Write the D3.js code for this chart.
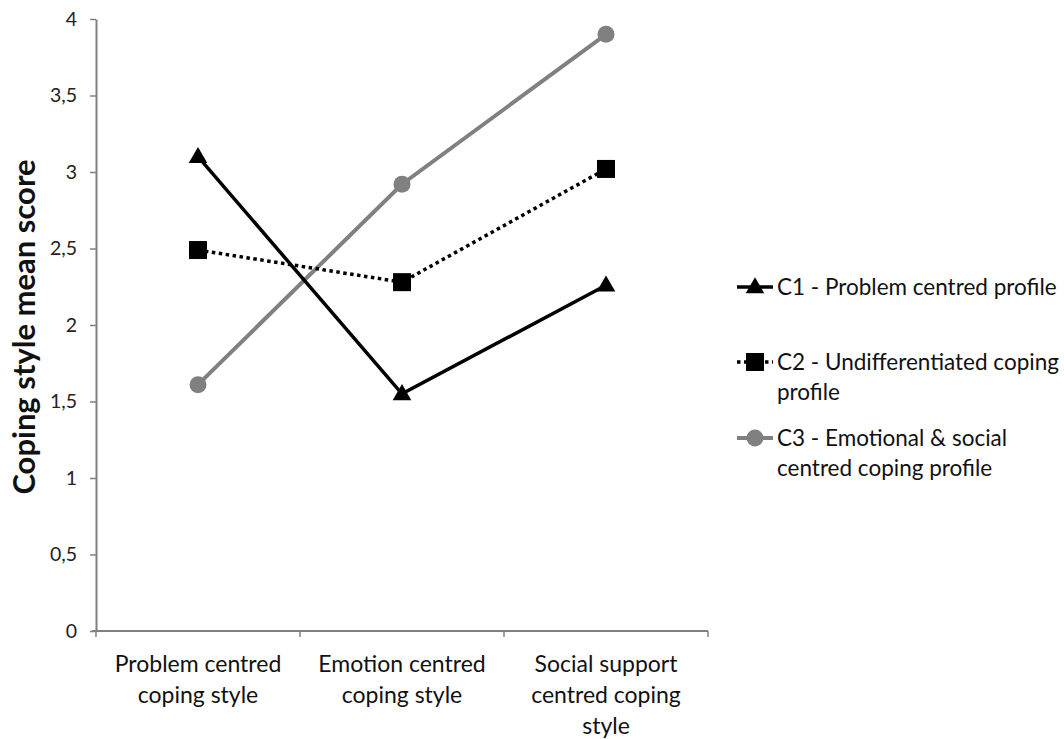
<!DOCTYPE html>
<html><head><meta charset="utf-8">
<script src="https://cdn.jsdelivr.net/npm/d3@7"></script>
<style>body{margin:0;background:#fff;} text{font-family:Lato,"Open Sans",sans-serif;}</style>
</head><body>
<svg id="c" width="1064" height="739"></svg>
<script>
const categories = [["Problem centred","coping style"],["Emotion centred","coping style"],["Social support","centred coping","style"]];
const seriesNames = [["C1 - Problem centred profile"],["C2 - Undifferentiated coping","profile"],["C3 - Emotional & social","centred coping profile"]];
const c1 = [3.10, 1.55, 2.26];
const c2 = [2.49, 2.28, 3.02];
const c3 = [1.61, 2.92, 3.90];
const yTicks = [0,0.5,1,1.5,2,2.5,3,3.5,4];

const svg = d3.select("#c");
const mLeft=96, mRight=708, mTop=19, mBottom=631;
const x = d3.scaleBand().domain([0,1,2]).range([mLeft,mRight]);
const y = d3.scaleLinear().domain([0,4]).range([mBottom,mTop]);
const fmt = d => String(d).replace(".",",");

// y axis
const ya = svg.append("g").attr("transform",`translate(${mLeft},0)`)
  .call(d3.axisLeft(y).tickValues(yTicks).tickFormat(fmt).tickSize(6).tickSizeOuter(0));
ya.select(".domain").attr("stroke","#808080").attr("stroke-width",2);
ya.selectAll(".tick line").attr("stroke","#808080").attr("stroke-width",1.5);
ya.selectAll(".tick text").attr("font-size",19.5).attr("fill","#222").attr("x",-19).style("font-family","Lato");

// x axis
const xa = svg.append("g").attr("transform",`translate(0,${mBottom})`);
xa.append("line").attr("x1",mLeft-4).attr("x2",mRight).attr("y1",0).attr("y2",0).attr("stroke","#808080").attr("stroke-width",2);
const bounds = [0,1,2].map(i=>x(i)).concat([mRight]);
xa.selectAll("line.tk").data(bounds).join("line").attr("class","tk")
  .attr("x1",d=>d).attr("x2",d=>d).attr("y1",0).attr("y2",6).attr("stroke","#808080").attr("stroke-width",1.5);
categories.forEach((lines,i)=>{
  const t = xa.append("text").attr("text-anchor","middle").attr("font-size",23).attr("fill","#111");
  lines.forEach((l,j)=>t.append("tspan").attr("x",x(i)+x.bandwidth()/2).attr("y",41+j*31).text(l));
});

// y title
svg.append("text").attr("transform",`translate(35,327) rotate(-90)`)
  .attr("text-anchor","middle").attr("font-size",31).attr("font-weight","bold").attr("fill","#111")
  .text("Coping style mean score");

const cx = i => x(i)+x.bandwidth()/2;
const line = d3.line().x((d,i)=>cx(i)).y(d=>y(d));

const styles = [
  {data:c1, color:"#000", width:3.5, dash:null, marker:"tri"},
  {data:c2, color:"#000", width:3.5, dash:"3.5,3.5", marker:"sq"},
  {data:c3, color:"#808080", width:4, dash:null, marker:"circ"}
];
function marker(g, type, px, py, color){
  if(type==="tri") g.append("path").attr("d",d3.symbol(d3.symbolTriangle,150)()).attr("transform",`translate(${px},${py+1})`).attr("fill",color);
  else if(type==="sq") g.append("rect").attr("x",px-9).attr("y",py-9).attr("width",18).attr("height",18).attr("fill",color);
  else g.append("circle").attr("cx",px).attr("cy",py).attr("r",8.5).attr("fill",color);
}
[2,1,0].forEach(k=>{
  const s = styles[k];
  const g = svg.append("g");
  g.append("path").attr("d",line(s.data)).attr("fill","none").attr("stroke",s.color)
    .attr("stroke-width",s.width).attr("stroke-dasharray",s.dash);
  s.data.forEach((v,i)=>marker(g,s.marker,cx(i),y(v),s.color));
});

// legend
const legY = [287, 362, 438];
styles.forEach((s,k)=>{
  const g = svg.append("g");
  g.append("line").attr("x1",737).attr("x2",773).attr("y1",legY[k]).attr("y2",legY[k])
    .attr("stroke",s.color).attr("stroke-width",s.width).attr("stroke-dasharray",s.dash);
  marker(g,s.marker,755,legY[k],s.color);
  const t = g.append("text").attr("font-size",22.5).attr("fill","#111");
  seriesNames[k].forEach((l,j)=>t.append("tspan").attr("x",777).attr("y",legY[k]+8+j*30).text(l));
});
</script>
</body></html>
